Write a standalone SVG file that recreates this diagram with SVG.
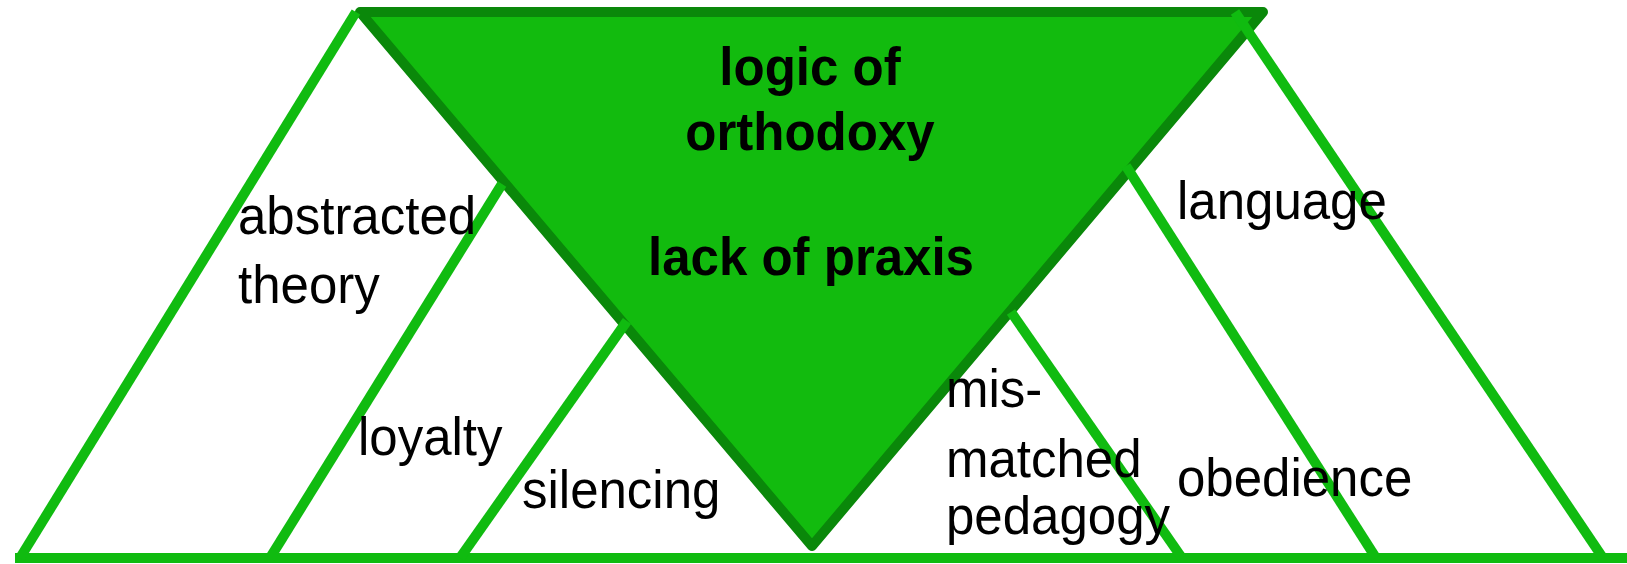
<svg xmlns="http://www.w3.org/2000/svg" width="1627" height="564" viewBox="0 0 1627 564">
<style>
.ln{stroke:#10bb10;stroke-width:10;fill:none;stroke-linecap:butt}
.t{font-family:"Liberation Sans",Arial,sans-serif;font-size:51px;fill:#000}
.b{font-family:"Liberation Sans",Arial,sans-serif;font-size:51px;font-weight:bold;fill:#000;text-anchor:middle}
</style>
<rect width="1627" height="564" fill="#fff"/>
<g id="center-triangle">
<polygon points="360,12 1263,12 812,546" fill="#12bb0e" stroke="#0a880a" stroke-width="10" stroke-linejoin="round"/>
<text class="b" transform="translate(810 85) scale(1 1.05)">logic of</text>
<text class="b" transform="translate(810 150) scale(1 1.05)">orthodoxy</text>
<text class="b" transform="translate(811 275) scale(1 1.05)">lack of praxis</text>
</g>
<g id="connectors">
<line class="ln" x1="15" y1="558" x2="1627" y2="558"/>
<line class="ln" x1="20" y1="558" x2="356" y2="12"/>
<line class="ln" x1="270" y1="558" x2="502" y2="184"/>
<line class="ln" x1="460" y1="558" x2="627" y2="321"/>
<line class="ln" x1="1011" y1="312" x2="1182" y2="558"/>
<line class="ln" x1="1126" y1="166" x2="1376" y2="558"/>
<line class="ln" x1="1235" y1="12" x2="1603" y2="558"/>
</g>
<g id="abstracted-theory">
<text class="t" transform="translate(238 234) scale(1 1.05)">abstracted</text>
<text class="t" transform="translate(238 303) scale(1 1.05)">theory</text>
</g>
<g id="loyalty"><text class="t" transform="translate(358 455) scale(1 1.05)">loyalty</text></g>
<g id="silencing"><text class="t" transform="translate(522 508) scale(1 1.05)">silencing</text></g>
<g id="mismatched-pedagogy">
<text class="t" transform="translate(946 407) scale(1 1.05)">mis-</text>
<text class="t" transform="translate(946 477) scale(1 1.05)">matched</text>
<text class="t" transform="translate(946 534) scale(1 1.05)">pedagogy</text>
</g>
<g id="language"><text class="t" transform="translate(1177 219) scale(1 1.05)">language</text></g>
<g id="obedience"><text class="t" transform="translate(1177 496) scale(1 1.05)">obedience</text></g>
</svg>
